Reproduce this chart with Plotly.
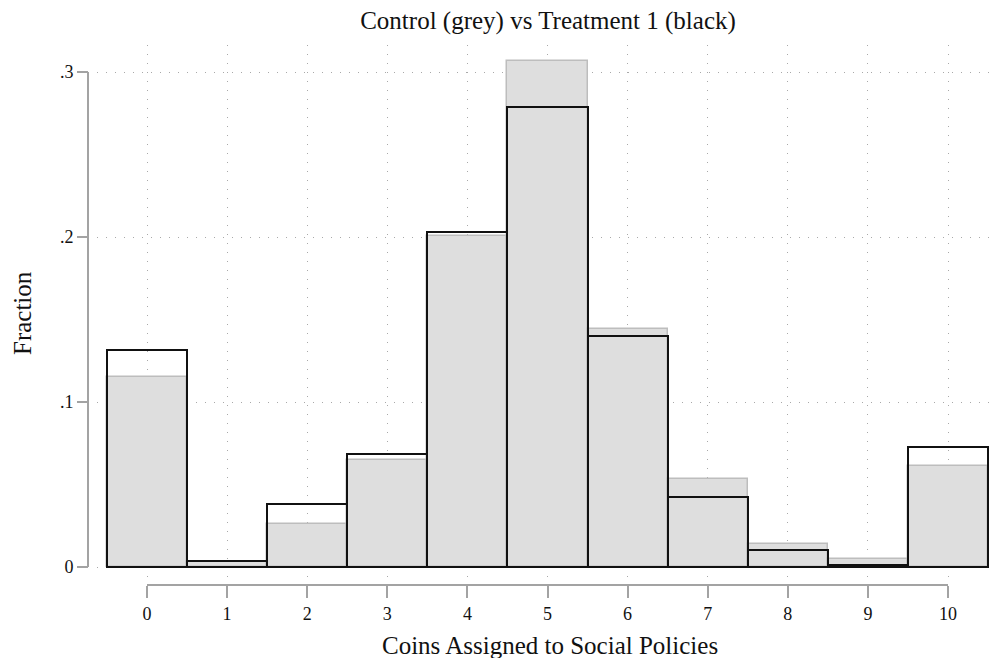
import plotly.graph_objects as go

coins = [0, 1, 2, 3, 4, 5, 6, 7, 8, 9, 10]
control = [0.1150, 0.0030, 0.0259, 0.0647, 0.2006, 0.3067, 0.1444, 0.0535, 0.0141, 0.0048, 0.0610]
treatment1 = [0.1315, 0.0036, 0.0384, 0.0685, 0.2032, 0.2790, 0.1402, 0.0426, 0.0101, 0.0014, 0.0729]
y_ticks = [0, 0.1, 0.2, 0.3]
y_ticklabels = ["0", ".1", ".2", ".3"]

FONT = "Liberation Serif"
AXIS_GREY = "#a3a3a3"
GRID = "#a9a9a9"

fig = go.Figure()
fig.add_trace(go.Bar(
    x=coins, y=control, width=1.0,
    marker=dict(color="#dedede", line=dict(color="#bdbdbd", width=1.5)),
    name="Control", showlegend=False,
))
fig.add_trace(go.Bar(
    x=coins, y=treatment1, width=1.0,
    marker=dict(color="rgba(0,0,0,0)", line=dict(color="#111111", width=2)),
    name="Treatment 1", showlegend=False,
))

W, H = 998, 658
ml, mr, mt, mb = 88, 4, 45, 73
plot_h = H - mt - mb
plot_w = W - ml - mr
ydom0 = 8 / plot_h
xdom0 = 9 / plot_w
y_lo = -(10) / 1650
y_hi = (567 - 45) / 1650
px_per_unit = 80.1
x_lo = -50 / px_per_unit
x_hi = (W - mr - 147) / px_per_unit

fig.update_layout(
    width=W, height=H,
    margin=dict(l=ml, r=mr, t=mt, b=mb, autoexpand=False),
    paper_bgcolor="white", plot_bgcolor="white",
    barmode="overlay", bargap=0,
    font=dict(family=FONT, color="#111111", size=18),
    title=dict(text="Control (grey) vs Treatment 1 (black)", x=548 / W, xref="container",
               xanchor="center", y=1 - 20 / H, yanchor="middle", yref="container",
               font=dict(family=FONT, size=25, color="#111111")),
    xaxis=dict(
        domain=[xdom0, 1], range=[x_lo, x_hi],
        anchor="free", position=0, automargin=False,
        tickmode="array", tickvals=coins, ticktext=[str(c) for c in coins],
        ticks="outside", ticklen=12, tickwidth=2, tickcolor=AXIS_GREY,
        showline=False, zeroline=False,
        showgrid=True, gridcolor=GRID, griddash="1px,8px", gridwidth=1,
        tickfont=dict(family=FONT, size=18, color="#111111"),
    ),
    yaxis=dict(
        domain=[ydom0, 1], range=[y_lo, y_hi],
        anchor="free", position=0, automargin=False,
        tickmode="array", tickvals=y_ticks, ticktext=y_ticklabels,
        ticks="outside", ticklen=11, tickwidth=2, tickcolor=AXIS_GREY,
        showline=False, zeroline=False,
        showgrid=True, gridcolor=GRID, griddash="1px,8px", gridwidth=1,
        tickfont=dict(family=FONT, size=18, color="#111111"),
    ),
)

fig.add_annotation(text="Fraction", textangle=-90, xref="paper", yref="paper",
                   x=(22 - ml) / plot_w, y=(H - mb - 313) / plot_h,
                   xanchor="center", yanchor="middle", showarrow=False,
                   font=dict(family=FONT, size=25, color="#111111"))
fig.add_annotation(text="Coins Assigned to Social Policies", xref="paper", yref="paper",
                   x=(550 - ml) / plot_w, y=(H - mb - 645) / plot_h,
                   xanchor="center", yanchor="middle", showarrow=False,
                   font=dict(family=FONT, size=25, color="#111111"))

# Stata-style axis lines spanning only the labelled range
fig.add_shape(type="line", xref="paper", yref="y", x0=0, x1=0, y0=y_ticks[0], y1=y_ticks[-1],
              line=dict(color=AXIS_GREY, width=2), layer="below")
fig.add_shape(type="line", xref="x", yref="paper", x0=coins[0], x1=coins[-1], y0=0, y1=0,
              line=dict(color=AXIS_GREY, width=2), layer="below")

fig.write_html("out.html", config={"displayModeBar": False},
               post_script="document.body.style.margin='0';document.body.style.padding='0';")
